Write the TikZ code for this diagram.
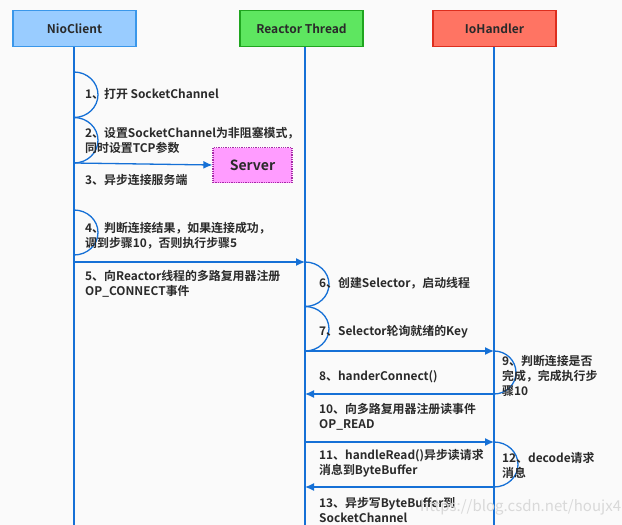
\documentclass[tikz,border=0pt]{standalone}
\usepackage{fontspec}
\setmainfont{Noto Sans CJK SC}[BoldFont={Noto Sans CJK SC Bold}]
\usetikzlibrary{arrows.meta}
\definecolor{lineblue}{HTML}{1570D6}
\definecolor{txt}{HTML}{2A2A2A}
\definecolor{nioFill}{HTML}{99CCFF}
\definecolor{nioLine}{HTML}{3A97EA}
\definecolor{rtFill}{HTML}{5EE660}
\definecolor{rtLine}{HTML}{1FA51F}
\definecolor{ioFill}{HTML}{FF7463}
\definecolor{ioLine}{HTML}{DD2E1E}
\definecolor{srvFill}{HTML}{FF9CFF}
\definecolor{srvLine}{HTML}{A62AA6}
\tikzset{
  head/.style={draw=#1, line width=1.3pt, minimum width=123pt, minimum height=36pt, inner sep=0pt, font=\bfseries\fontsize{12}{14}\selectfont, text=txt},
  life/.style={draw=lineblue, line width=1.3pt},
  msg/.style={draw=lineblue, line width=1.3pt, -{Latex[length=9pt,width=8pt]}},
  loopline/.style={draw=lineblue, line width=1.3pt},
  lbl/.style={anchor=base west, inner sep=0pt, align=left, text=txt, font=\bfseries\fontsize{11.9}{15}\selectfont},
  wm/.style={anchor=base west, inner sep=0pt, text=black!15, font=\fontsize{15}{16}\selectfont}
}
\begin{document}
\begin{tikzpicture}[x=1pt,y=-1pt]
\useasboundingbox (0,0) rectangle (622,525);
\fill[white!98!black] (0,0) rectangle (622,525);
% headers
\node[head=nioLine, fill=nioFill] (nio) at (74.5,28.5) {NioClient};
\node[head=rtLine, fill=rtFill] (rt) at (301.5,28.5) {Reactor Thread};
\node[head=ioLine, fill=ioFill] (ioh) at (494.5,28.5) {IoHandler};
% bottom ends of lifelines
\coordinate (nioEnd) at (74,525);
\coordinate (rtEnd) at (305,525);
\coordinate (iohEnd) at (494,525);
\draw[life] (nio.south -| nioEnd) -- (nioEnd);
\draw[life] (rt.south -| rtEnd) -- (rtEnd);
\draw[life] (ioh.south -| iohEnd) -- (iohEnd);
% server
\node[draw=srvLine, fill=srvFill, densely dotted, line width=1.3pt, minimum width=79pt, minimum height=35pt, inner sep=0pt, font=\bfseries\fontsize{14}{16}\selectfont, text=txt] (srv) at (252.5,165) {Server};
% event points
\coordinate (a1) at (74,72);
\coordinate (a2) at (74,117.5);
\coordinate (a3) at (74,163);
\coordinate (a4) at (74,210);
\coordinate (p5) at (74,262);
\coordinate (r5) at (305,262);
\coordinate (r7) at (305,306.5);
\coordinate (r8) at (305,351);
\coordinate (i8) at (494,351);
\coordinate (i9) at (494,394);
\coordinate (r9) at (305,394);
\coordinate (r11) at (305,442);
\coordinate (i11) at (494,442);
\coordinate (i12) at (494,487);
\coordinate (r12) at (305,487);
% self loops
\draw[loopline] (a1) arc[start angle=-90,end angle=90,x radius=24,y radius=22.75];
\draw[loopline] (a2) arc[start angle=-90,end angle=90,x radius=24,y radius=22.75];
\draw[loopline] (a4) arc[start angle=-90,end angle=90,x radius=24,y radius=22.5];
\draw[loopline] (r5) arc[start angle=-90,end angle=90,x radius=24,y radius=22.25];
\draw[loopline] (r7) arc[start angle=-90,end angle=90,x radius=24,y radius=22.25];
\draw[loopline] (i8) arc[start angle=-90,end angle=90,x radius=22,y radius=21.5];
\draw[loopline] (i11) arc[start angle=-90,end angle=90,x radius=24,y radius=22.5];
% messages
\draw[msg] (a3) -- (srv.west);
\draw[msg] (p5) -- (r5);
\draw[msg] (r8) -- (i8);
\draw[msg] (i9) -- (r9);
\draw[msg] (r11) -- (i11);
\draw[msg] (i12) -- (r12);
% labels (base anchor = baseline of last line)
\node[lbl] (t1) at (85,98) {1、打开 SocketChannel};
\node[lbl] (t2) at (85,152) {2、设置SocketChannel为非阻塞模式，\\同时设置TCP参数};
\node[lbl] (t3) at (85,184) {3、异步连接服务端};
\node[lbl] (t4) at (85,247) {4、判断连接结果，如果连接成功，\\调到步骤10，否则执行步骤5};
\node[lbl] (t5) at (85,295) {5、向Reactor线程的多路复用器注册\\OP\_CONNECT事件};
\node[lbl] (t6) at (319,287) {6、创建Selector，启动线程};
\node[lbl] (t7) at (319,335) {7、Selector轮询就绪的Key};
\node[lbl] (t8) at (319,380) {8、handerConnect()};
\node[lbl] (t9) at (502,395) {9、判断连接是否\\完成，完成执行步\\骤10};
\node[lbl] (t10) at (319,428) {10、向多路复用器注册读事件\\OP\_READ};
\node[lbl] (t11) at (319,474) {11、handleRead()异步读请求\\消息到ByteBuffer};
\node[lbl] (t12) at (502,477) {12、decode请求\\消息};
\node[lbl] (t13) at (319,522) {13、异步写ByteBuffer到\\SocketChannel};
\node[wm] (wmark) at (420,511) {https://blog.csdn.net/houjx4};
\end{tikzpicture}
\end{document}
